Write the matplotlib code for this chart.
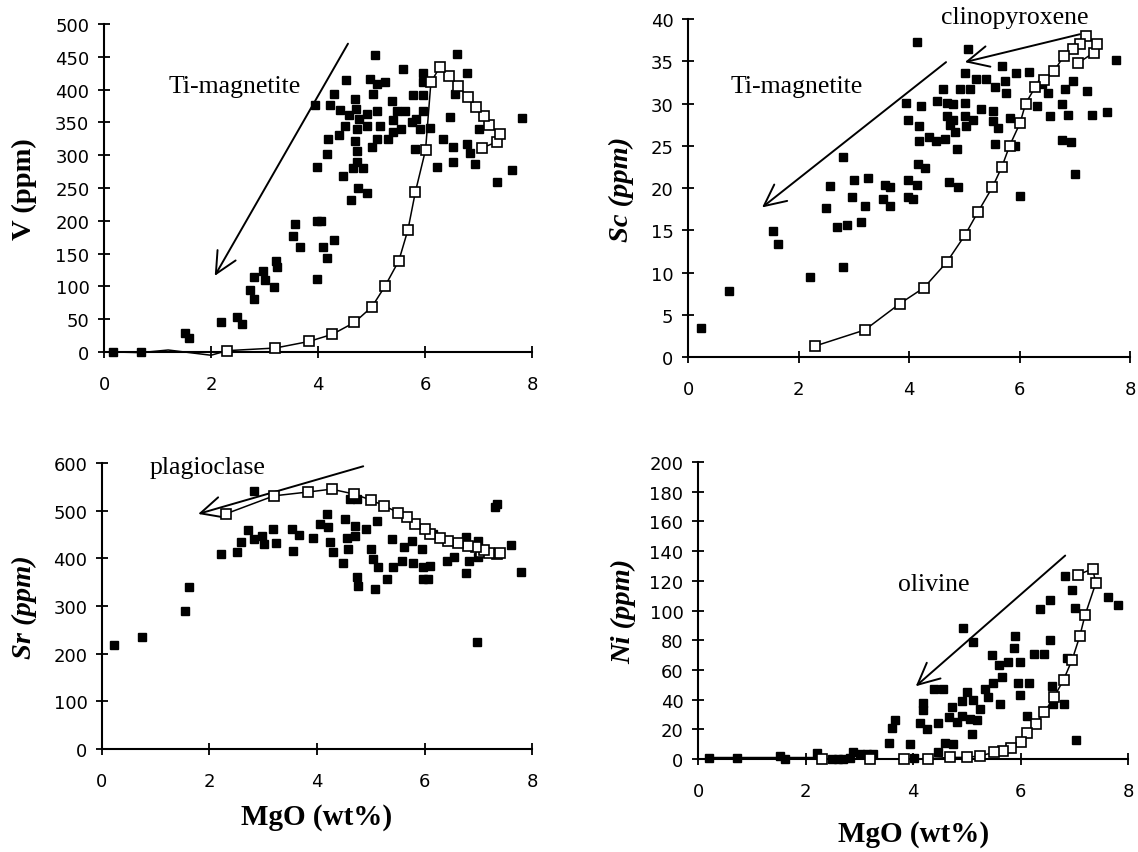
import matplotlib
matplotlib.use("Agg")
import matplotlib.pyplot as plt
import numpy as np

plt.rcParams["font.family"] = ["DejaVu Sans"]
SERIF = "Liberation Serif"

# ---------------------------------------------------------------- data
# Whole-rock analyses (MgO wt%, trace element ppm)
v_points = [(0.17, 0), (0.69, 0), (1.51, 29), (1.58, 21), (2.18, 46), (2.49, 54), (2.57, 43),
            (2.72, 95), (2.80, 80), (2.80, 114), (2.98, 124), (3.01, 109), (3.17, 99), (3.21, 139),
            (3.24, 129), (3.53, 177), (3.57, 195), (3.66, 160), (3.98, 199), (4.06, 199), (3.98, 282),
            (3.94, 376), (3.99, 112), (4.09, 160), (4.17, 144), (4.29, 170), (4.16, 302), (4.22, 377),
            (4.29, 393), (4.19, 325), (4.39, 331), (4.50, 344), (4.42, 369), (4.57, 361), (4.52, 415),
            (4.47, 269), (4.66, 280), (4.85, 280), (4.72, 290), (4.69, 386), (4.61, 232), (4.74, 250),
            (4.91, 243), (4.71, 370), (4.76, 355), (4.72, 340), (4.69, 322), (4.72, 307), (4.91, 363),
            (4.91, 344), (5.00, 312), (5.10, 368), (5.15, 344), (5.10, 325), (4.98, 416), (5.07, 452),
            (5.10, 409), (5.25, 411), (5.03, 393), (5.30, 325), (5.38, 382), (5.40, 353), (5.41, 335),
            (5.47, 368), (5.63, 368), (5.56, 340), (5.58, 431), (5.78, 392), (5.96, 391), (5.96, 425),
            (5.97, 411), (5.97, 368), (5.91, 340), (5.81, 310), (6.09, 341), (5.75, 351), (5.84, 355),
            (6.23, 282), (6.34, 325), (6.47, 358), (6.53, 312), (6.53, 289), (6.56, 393), (6.59, 454),
            (6.78, 425), (6.78, 317), (6.84, 304), (6.93, 287), (7.00, 340), (7.34, 259), (7.62, 278),
            (7.81, 356)]

sc_points = [(0.23, 3.4), (0.74, 7.8), (1.54, 14.9), (1.62, 13.4), (2.21, 9.5), (2.80, 23.7),
             (2.80, 10.6), (2.50, 17.6), (2.57, 20.2), (2.70, 15.4), (2.87, 15.6), (3.13, 16.0),
             (2.97, 18.9), (3.00, 21.0), (3.21, 17.9), (3.25, 21.2), (3.53, 18.7), (3.56, 20.3),
             (3.65, 17.9), (3.66, 20.1), (3.98, 18.9), (4.07, 18.7), (3.98, 21.0), (4.15, 20.3),
             (4.17, 22.8), (4.29, 22.4), (3.94, 30.1), (4.21, 29.7), (4.18, 27.4), (3.98, 28.1),
             (4.18, 25.6), (4.36, 26.0), (4.49, 25.6), (4.65, 25.8), (4.72, 20.7), (4.89, 20.1),
             (4.50, 30.3), (4.62, 31.7), (4.68, 30.1), (4.68, 28.5), (4.80, 29.9), (4.80, 28.1),
             (4.92, 31.7), (5.01, 33.6), (5.01, 30.1), (5.01, 28.5), (5.04, 27.3), (5.10, 31.7),
             (5.16, 28.1), (5.07, 36.4), (4.74, 27.5), (4.83, 26.6), (4.86, 24.6), (4.15, 37.3),
             (5.22, 32.9), (5.39, 32.9), (5.31, 29.4), (5.55, 31.9), (5.52, 29.1), (5.52, 27.9),
             (5.61, 27.1), (5.55, 25.2), (5.69, 34.4), (5.73, 32.7), (5.93, 33.6), (5.75, 31.3),
             (5.82, 28.3), (5.91, 25.0), (6.18, 33.7), (6.31, 29.7), (6.40, 32.3), (6.52, 31.3),
             (6.55, 28.5), (6.76, 29.9), (6.82, 31.7), (6.88, 28.7), (6.97, 32.7), (6.76, 25.7),
             (6.94, 25.4), (7.00, 21.7), (6.00, 19.1), (7.22, 31.5), (7.31, 28.6), (7.58, 29.0),
             (7.75, 35.2)]

sr_points = [(0.22, 219), (0.74, 234), (1.54, 289), (1.61, 340), (2.21, 409), (2.51, 414),
             (2.58, 435), (2.72, 460), (2.82, 440), (2.83, 542), (2.98, 447), (3.01, 429),
             (3.19, 461), (3.23, 433), (3.53, 461), (3.56, 416), (3.67, 449), (3.93, 442),
             (4.06, 472), (4.18, 493), (4.21, 465), (4.24, 435), (4.30, 414), (4.52, 482),
             (4.55, 442), (4.58, 419), (4.49, 391), (4.71, 468), (4.71, 447), (4.74, 360),
             (4.77, 342), (4.92, 461), (5.11, 479), (5.00, 419), (5.05, 398), (5.14, 381),
             (5.08, 335), (5.30, 356), (5.39, 440), (5.41, 381), (5.61, 423), (5.58, 395),
             (5.76, 437), (5.79, 391), (5.95, 419), (5.98, 381), (6.10, 384), (6.07, 356),
             (5.98, 356), (6.41, 395), (6.54, 402), (6.78, 370), (6.82, 395),
             (7.00, 402), (7.00, 437), (6.78, 444), (6.97, 224), (7.31, 507), (7.34, 514),
             (7.60, 428), (7.79, 372), (6.16, 451), (4.61, 524), (4.74, 524)]

ni_points = [(0.21, 1), (0.73, 1), (1.53, 2), (1.62, 0), (2.21, 4), (2.49, 0), (2.61, 0),
             (2.70, 0), (2.83, 1), (2.89, 4.5), (3.01, 3.4), (3.14, 3.4), (3.26, 3.4), (3.56, 11),
             (3.67, 26), (3.60, 21), (3.94, 10), (4.01, 1), (4.19, 38), (4.19, 33), (4.13, 24),
             (4.25, 20), (4.38, 47), (4.56, 47), (4.47, 24), (4.60, 11), (4.75, 10), (4.47, 4.5),
             (4.72, 35), (4.91, 39), (5.00, 45), (5.12, 40), (5.06, 27), (4.91, 29), (5.09, 17),
             (5.18, 26), (5.25, 34), (4.66, 28), (4.81, 25), (4.92, 88), (5.12, 79), (5.34, 47),
             (5.40, 42), (5.49, 51), (5.62, 37), (5.46, 70), (5.65, 55), (5.59, 63), (5.77, 65),
             (5.87, 75), (5.90, 83), (5.99, 65), (5.96, 51), (5.99, 43), (6.15, 51), (6.11, 29),
             (6.25, 71), (6.44, 71), (6.55, 80), (6.36, 101), (6.55, 107), (6.58, 49), (6.61, 37),
             (6.80, 37), (6.86, 68), (7.01, 102), (7.03, 13), (6.95, 114), (6.83, 123),
             (7.62, 109), (7.82, 104)]

# Fractional crystallization model, listed from the parental liquid onwards
model_mgo = [7.06, 7.34, 7.40, 7.20, 7.10, 6.96, 6.80, 6.62, 6.44, 6.28, 6.11,
             6.01, 5.82, 5.68, 5.51, 5.25, 5.01, 4.68, 4.27, 3.83, 3.20, 2.30]
model_v = [311, 320, 332, 346, 359, 373, 388, 406, 421, 435, 411,
           308, 244, 186, 139, 100, 69, 45, 27, 16, 6, 2]
model_sc = [34.8, 36.0, 37.1, 38.0, 37.1, 36.4, 35.6, 33.8, 32.8, 31.9, 30.0,
            27.7, 25.0, 22.5, 20.1, 17.2, 14.4, 11.2, 8.2, 6.3, 3.2, 1.3]
model_sr = [414, 410, 411, 412, 418, 423, 426, 432, 437, 442, 451,
            461, 472, 486, 496, 510, 522, 535, 545, 539, 531, 493]
model_ni = [124, 128, 118.5, 97, 82.6, 66.9, 53.4, 41.5, 31.4, 23.6, 17.5,
            11.7, 7.2, 5.6, 4.5, 2.2, 1.1, 1.1, 0.2, 0, 0, 0]

# Low-MgO continuation of the trends
tail_v_mgo = [0.17, 0.69, 1.20, 2.00, 2.30]
tail_v = [0, -1, 3, -5, 2]
tail_ni_mgo = [0.21, 0.73, 1.53, 2.21, 2.30]
tail_ni = [1, 1, 1, 1, 0]

x_ticks = [0, 2, 4, 6, 8]

# ---------------------------------------------------------------- figure
fig = plt.figure(figsize=(11.38, 8.53), dpi=100)

ax_v = fig.add_axes([0.0914, 0.5862, 0.3761, 0.3845])
ax_sc = fig.add_axes([0.6046, 0.5803, 0.3884, 0.3962])
ax_sr = fig.add_axes([0.0896, 0.1208, 0.3779, 0.3353])
ax_ni = fig.add_axes([0.6134, 0.1090, 0.3779, 0.3482])


def style(ax, ymax, ystep):
    ax.set_xlim(0, 8)
    ax.set_ylim(0, ymax)
    for side in ("top", "right"):
        ax.spines[side].set_visible(False)
    for side in ("left", "bottom"):
        ax.spines[side].set_linewidth(1.5)
    ax.set_xticks(x_ticks)
    ax.set_yticks(np.arange(0, ymax + ystep / 2, ystep))
    ax.tick_params(direction="inout", length=9, width=1.3, labelsize=13)
    ax.tick_params(axis="x", pad=12)
    ax.tick_params(axis="y", pad=6)


def draw(ax, points, mx, my):
    px, py = np.array(points).T
    ax.plot(px, py, "s", ms=5.8, color="black", clip_on=False, zorder=3)
    ax.plot(mx, my, "-s", color="black", lw=1.1, ms=7, mfc="white", mec="black",
            mew=1.2, clip_on=False, zorder=4)


def arrow(ax, tail, tip):
    ax.annotate("", xy=tip, xytext=tail, annotation_clip=False,
                arrowprops=dict(arrowstyle="->,head_length=1.55,head_width=0.75",
                                mutation_scale=10, lw=1.4, color="black",
                                shrinkA=0, shrinkB=0))


def label(ax, x, y, s):
    ax.text(x, y, s, family=SERIF, fontsize=18.5, ha="center", va="center", clip_on=False)


# V
style(ax_v, 500, 50)
ax_v.plot(tail_v_mgo, tail_v, color="black", lw=1.1, clip_on=False, zorder=2)
draw(ax_v, v_points, model_mgo, model_v)
arrow(ax_v, (4.56, 470), (2.07, 116))
label(ax_v, 2.45, 405, "Ti-magnetite")
ax_v.set_ylabel("V (ppm)", family=SERIF, fontweight="bold", fontsize=20.5)
ax_v.yaxis.set_label_coords(-0.157, 0.5)

# Sc
style(ax_sc, 40, 5)
draw(ax_sc, sc_points, model_mgo, model_sc)
arrow(ax_sc, (4.67, 34.9), (1.34, 17.7))
arrow(ax_sc, (7.09, 38.2), (5.01, 34.9))
label(ax_sc, 1.97, 32.1, "Ti-magnetite")
label(ax_sc, 5.91, 40.2, "clinopyroxene")
ax_sc.set_ylabel("Sc (ppm)", family=SERIF, fontweight="bold", style="italic", fontsize=20.5)
ax_sc.yaxis.set_label_coords(-0.122, 0.5)

# Sr
style(ax_sr, 600, 100)
draw(ax_sr, sr_points, model_mgo, model_sr)
arrow(ax_sr, (4.86, 593), (1.79, 493))
label(ax_sr, 1.97, 591, "plagioclase")
ax_sr.set_ylabel("Sr (ppm)", family=SERIF, fontweight="bold", style="italic", fontsize=20.5)
ax_sr.yaxis.set_label_coords(-0.151, 0.5)
ax_sr.set_xlabel("MgO (wt%)", family=SERIF, fontweight="bold", fontsize=21)
ax_sr.xaxis.set_label_coords(0.5, -0.19)

# Ni
style(ax_ni, 200, 20)
ax_ni.plot(tail_ni_mgo, tail_ni, color="black", lw=1.1, clip_on=False, zorder=2)
draw(ax_ni, ni_points, model_mgo, model_ni)
arrow(ax_ni, (6.83, 137), (4.05, 49))
label(ax_ni, 4.39, 118, "olivine")
ax_ni.set_ylabel("Ni (ppm)", family=SERIF, fontweight="bold", style="italic", fontsize=20.5)
ax_ni.yaxis.set_label_coords(-0.144, 0.5)
ax_ni.set_xlabel("MgO (wt%)", family=SERIF, fontweight="bold", fontsize=21)
ax_ni.xaxis.set_label_coords(0.5, -0.205)

fig.savefig("out.png", dpi=100)
